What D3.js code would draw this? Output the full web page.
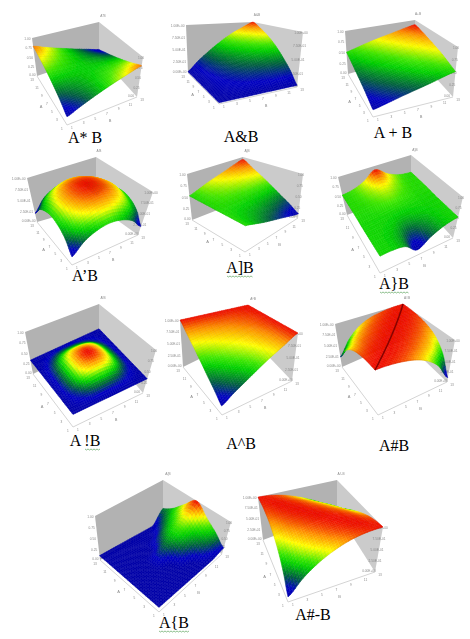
<!DOCTYPE html>
<html><head><meta charset="utf-8">
<style>html,body{margin:0;padding:0;background:#fff}svg{display:block}</style>
<script src="https://cdn.jsdelivr.net/npm/d3@7"></script></head><body>
<svg id="c" width="470" height="639"></svg>
<script>
// ---------- data: z (normalised response), rows A=1,3..13, cols B=1,3..13
const tickA = [1,3,5,7,9,11,13];
const tickB = [1,3,5,7,9,11,13];
const zShort = ["0.00","0.25","0.50","0.75","1.00"];
const zLong = ["0.00E+00","2.50E-01","5.00E-01","7.50E-01","1.00E+00"];
const titles = ["A*B","A&B","A+B","A'B","A]B","A}B","A!B","A^B","A#B","A{B","A#-B"];
const captions = ["A* B","A&B","A + B","A’B","A]B","A}B","A !B","A^B","A#B","A{B","A#-B"];
const zStar = [[0,.15,.30,.45,.60,.75,.90],[.15,.25,.35,.45,.55,.65,.75],[.30,.35,.40,.45,.50,.55,.60],[.45,.45,.45,.45,.45,.45,.45],[.60,.55,.50,.45,.40,.35,.30],[.75,.65,.55,.45,.35,.25,.15],[.90,.75,.60,.45,.30,.15,0]];
const zAmp = [[0,0,0,0,0,0,0],[0,.03,.06,.08,.11,.14,.17],[0,.06,.11,.17,.22,.28,.33],[0,.08,.17,.25,.33,.42,.50],[0,.11,.22,.33,.44,.56,.67],[0,.14,.28,.42,.56,.69,.83],[0,.17,.33,.50,.67,.83,1]];
const zPlus = [[0,.08,.17,.25,.33,.42,.50],[.08,.17,.25,.33,.42,.50,.58],[.17,.25,.33,.42,.50,.58,.67],[.25,.33,.42,.50,.58,.67,.75],[.33,.42,.50,.58,.67,.75,.83],[.42,.50,.58,.67,.75,.83,.92],[.50,.58,.67,.75,.83,.92,1]];
const zQuote = [[0,.28,.44,.50,.44,.28,0],[.28,.56,.72,.78,.72,.56,.28],[.44,.72,.89,.94,.89,.72,.44],[.50,.78,.94,1,.94,.78,.50],[.44,.72,.89,.94,.89,.72,.44],[.28,.56,.72,.78,.72,.56,.28],[0,.28,.44,.50,.44,.28,0]];
const zBracket = [[.5,.42,.33,.25,.17,.08,0],[.5,.44,.39,.33,.28,.22,.17],[.5,.47,.44,.42,.39,.36,.33],[.5,.5,.5,.5,.5,.5,.5],[.5,.53,.56,.58,.61,.64,.67],[.5,.56,.61,.67,.72,.78,.83],[.5,.58,.67,.75,.83,.92,1]];
const zBrace = [[.48,.46,.35,0,.25,.42,.48],[.48,.46,.38,.20,.32,.44,.48],[.48,.47,.44,.38,.42,.46,.48],[.48,.48,.48,.48,.48,.48,.48],[.5,.5,.54,.58,.54,.5,.5],[.5,.53,.62,.72,.62,.52,.5],[.5,.56,.72,1,.72,.55,.5]];
const zBang = [[0,0,0,0,0,0,0],[0,.12,.28,.33,.28,.12,0],[0,.28,.68,.8,.68,.28,0],[0,.33,.8,1,.8,.33,0],[0,.28,.68,.8,.68,.28,0],[0,.12,.28,.33,.28,.12,0],[0,0,0,0,0,0,0]];
const zCaret = [[0,.17,.33,.50,.67,.83,1],[.17,.31,.44,.58,.72,.86,1],[.33,.44,.56,.67,.78,.89,1],[.5,.58,.67,.75,.83,.92,1],[.67,.72,.78,.83,.89,.94,1],[.83,.86,.89,.92,.94,.97,1],[1,1,1,1,1,1,1]];
const zHash = [[1,.99,.95,.87,.72,.45,0],[.99,1,.99,.95,.87,.72,.45],[.95,.99,1,.99,.95,.87,.72],[.88,.95,.99,1,.99,.95,.87],[.74,.88,.95,.99,1,.99,.95],[.5,.74,.88,.95,.99,1,.99],[.15,.5,.74,.88,.95,.99,1]];
const zCurly = [[0,0,0,0,0,0,.1],[0,0,0,0,0,.25,.42],[0,0,0,0,.28,.45,.7],[0,0,0,.2,.45,.68,1],[0,0,0,0,.28,.5,.72],[0,0,0,0,0,.25,.45],[0,0,0,0,0,0,.3]];
const zHashMinus = [[0,.31,.56,.75,.89,.97,1],[.31,.56,.75,.89,.97,1,.97],[.56,.75,.89,.97,1,.97,.89],[.75,.89,.97,1,.97,.89,.75],[.89,.97,1,.97,.89,.75,.56],[.97,1,.97,.89,.75,.56,.31],[1,.97,.89,.75,.56,.31,0]];
const grids = [zStar,zAmp,zPlus,zQuote,zBracket,zBrace,zBang,zCaret,zHash,zCurly,zHashMinus];

// ---------- layout: projection of each plot box (floor + top corners), caption and title spots
const P=(x,y)=>({x,y});
const layout = [
 {TL:P(32,38),TB:P(99,22),TR:P(143,57),TF:P(67,77),L:P(37,76),B:P(99,55),R:P(137,97),F:P(67,125),t:[.17,.85],cap:[85,143],tt:[103,17],zl:zShort},
 {TL:P(186,25),TB:P(253,22),TR:P(303,32),TF:P(220,60),L:P(188,73),B:P(253,50),R:P(297,87),F:P(219,104),t:[.03,1],cap:[241,142],tt:[257,16],zl:zLong},
 {TL:P(345,31),TB:P(415,20),TR:P(458,47),TF:P(373,69),L:P(348,74),B:P(415,55),R:P(453,97),F:P(373,117),t:[.15,.87],cap:[393,138],tt:[418,15],zl:zShort},
 {TL:P(27,178),TB:P(96,157),TR:P(153,192),TF:P(72,225),L:P(37,222),B:P(96,205),R:P(138,235),F:P(72,265),t:[.2,1.1],cap:[85,281],tt:[99,152],zl:zLong},
 {TL:P(187,174),TB:P(243,157),TR:P(303,174),TF:P(246,202),L:P(192,220),B:P(243,200),R:P(298,218),F:P(245,252),t:[.1,.95],cap:[240,273],tt:[247,152],zl:zShort,wavy:[227,253]},
 {TL:P(338,177),TB:P(411,155),TR:P(463,197),TF:P(380,240),L:P(347,215),B:P(411,191),R:P(453,238),F:P(380,273),t:[.15,.9],cap:[394,289],tt:[415,151],zl:zShort,wavy:[380,409]},
 {TL:P(25,332),TB:P(99,304),TR:P(156,350),TF:P(73,389),L:P(33,374),B:P(99,341),R:P(143,393),F:P(73,427),t:[.33,.8],cap:[85,446],tt:[103,299],zl:zShort,wavy:[85,100]},
 {TL:P(180,320),TB:P(248,305),TR:P(298,333),TF:P(220,365),L:P(183,367),B:P(248,335),R:P(292,381),F:P(222,415),t:[.18,1],cap:[241,449],tt:[253,300],zl:zLong},
 {TL:P(335,324),TB:P(403,304),TR:P(455,340),TF:P(375,370),L:P(342,367),B:P(403,340),R:P(447,382),F:P(378,415),t:[.1,1],cap:[394,451],tt:[407,299],zl:zLong,ridge:true},
 {TL:P(95,516),TB:P(163,480),TR:P(231,522),TF:P(159,566),L:P(100,560),B:P(163,525),R:P(222,554),F:P(159,612),t:[.1,1],cap:[174,628],tt:[168,475],zl:zShort,wavy:[159,189]},
 {TL:P(258,497),TB:P(337,480),TR:P(383,527),TF:P(288,552),L:P(263,540),B:P(337,512),R:P(375,572),F:P(288,602),t:[.1,1],cap:[313,620],tt:[341,475],zl:zLong}
];

const colour = d3.scaleLinear()
 .domain([0,.1,.27,.45,.55,.72,.87,1])
 .range(["#0000a8","#0000c4","#006040","#00d000","#40e800","#ffff00","#ff9000","#f01000"])
 .clamp(true);
const lineOpacity = d3.scaleLinear().domain([0,.3]).range([.12,.55]).clamp(true);

const svg = d3.select("#c");
const defs = svg.append("defs");
defs.append("filter").attr("id","soft").attr("x","-5%").attr("y","-5%").attr("width","110%").attr("height","110%")
 .append("feGaussianBlur").attr("stdDeviation",.4);
const root = svg.append("g").attr("filter","url(#soft)");

const lerp=(p,q,t)=>({x:p.x+(q.x-p.x)*t,y:p.y+(q.y-p.y)*t});
const cr=(p0,p1,p2,p3,t)=>.5*(2*p1+(p2-p0)*t+(2*p0-5*p1+4*p2-p3)*t*t+(3*p1-p0-3*p2+p3)*t*t*t);
function sampler(g){
  const n=g.length-1, at=(i,j)=>g[Math.max(0,Math.min(n,i))][Math.max(0,Math.min(n,j))];
  const row=(i,j,v)=>cr(at(i,j-1),at(i,j),at(i,j+1),at(i,j+2),v);
  return (a,b)=>{
    const fa=a*n, fb=b*n, i=Math.min(n-1,Math.floor(fa)), j=Math.min(n-1,Math.floor(fb));
    const u=fa-i, v=fb-j;
    const z=cr(row(i-1,j,v),row(i,j,v),row(i+1,j,v),row(i+2,j,v),u);
    return Math.max(0,Math.min(1,z));
  };
}
const aScale=d3.scaleLinear().domain([1,13]).range([0,1]);
const bScale=d3.scaleLinear().domain([1,13]).range([0,1]);
const CELLS=12, SUB=3;
const pts=d=>d.map(p=>p.x.toFixed(2)+","+p.y.toFixed(2)).join(" ");
const grey="#8a8a8a";

layout.forEach((o,idx)=>{
  const g=root.append("g");
  const z=sampler(grids[idx]);
  const zScale=d3.scaleLinear().domain([0,1]).range(o.t);
  const floor=(a,b)=>lerp(lerp(o.F,o.L,a),lerp(o.R,o.B,a),b);
  const top=(a,b)=>lerp(lerp(o.TF,o.TL,a),lerp(o.TR,o.TB,a),b);
  const proj=(a,b,v)=>lerp(floor(a,b),top(a,b),zScale(v));
  g.append("polygon").attr("points",pts([o.L,o.B,o.TB,o.TL])).attr("fill","#b2b2b2");
  g.append("polygon").attr("points",pts([o.B,o.R,o.TR,o.TB])).attr("fill","#cbcbcb");
  g.append("polyline").attr("points",pts([o.L,o.F,o.R])).attr("fill","none").attr("stroke","#d4d4d4").attr("stroke-width",1);
  const label=(x,y,t,anchor,size)=>g.append("text").attr("x",x).attr("y",y).attr("text-anchor",anchor||"middle")
     .attr("font-family","Liberation Sans").attr("font-size",size||3.2).attr("fill",grey).text(t);
  tickA.forEach(v=>{const p=floor(aScale(v),0);label(p.x-5,p.y+4.5,v);});
  tickB.forEach(v=>{const p=floor(0,bScale(v));label(p.x+5,p.y+4,v);});
  const ma=floor(.5,0), mb=floor(0,.5);
  label(ma.x-11,ma.y+7,"A","middle",4);
  label(mb.x+8,mb.y+11,"B","middle",4);
  o.zl.forEach((t,i)=>{
    const f=i/(o.zl.length-1);
    const lp=lerp(o.L,o.TL,f), rp=lerp(o.R,o.TR,f);
    label(lp.x-1.5,lp.y+(i?1.5:-.5),t,"end");
    label(rp.x-(i?2:6),rp.y+(i?1.5:-.5),t,"middle");
  });
  label(o.tt[0],o.tt[1],titles[idx]);
  const N=CELLS*SUB, sf=g.append("g");
  for(let i=N-1;i>=0;i--) for(let j=N-1;j>=0;j--){
    const a0=i/N,a1=(i+1)/N,b0=j/N,b1=(j+1)/N;
    const q=[[a0,b0],[a1,b0],[a1,b1],[a0,b1]].map(([a,b])=>proj(a,b,z(a,b)));
    const zm=z((a0+a1)/2,(b0+b1)/2), c=colour(zm);
    sf.append("polygon").attr("points",pts(q)).attr("fill",c).attr("stroke",c).attr("stroke-width",.45);
    let d="";
    if(i%SUB===0) d+=`M${q[0].x},${q[0].y}L${q[3].x},${q[3].y}`;
    if(j%SUB===0) d+=`M${q[0].x},${q[0].y}L${q[1].x},${q[1].y}`;
    if(d) sf.append("path").attr("d",d).attr("fill","none").attr("stroke",d3.color(c).darker(.9)).attr("stroke-opacity",lineOpacity(zm)).attr("stroke-width",.45);
  }
  if(o.ridge){
    const r=d3.range(0,N+1).map(k=>proj(k/N,k/N,z(k/N,k/N)));
    g.append("polyline").attr("points",pts(r)).attr("fill","none").attr("stroke","#8a0505").attr("stroke-width",1.6);
  }
});

const capG=svg.append("g");
layout.forEach((o,idx)=>{
  capG.append("text").attr("x",o.cap[0]).attr("y",o.cap[1]).attr("text-anchor","middle")
    .attr("font-family","Liberation Serif").attr("font-size",16).attr("fill","#000").text(captions[idx]);
  if(o.wavy){
    const y0=o.cap[1]+3;
    const w=d3.range(o.wavy[0],o.wavy[1]+.1,1.5).map((x,k)=>[x,y0+(k%2?1:0)]);
    capG.append("path").attr("d",d3.line()(w)).attr("fill","none").attr("stroke","#5fa55f").attr("stroke-width",.7);
  }
});
</script></body></html>
